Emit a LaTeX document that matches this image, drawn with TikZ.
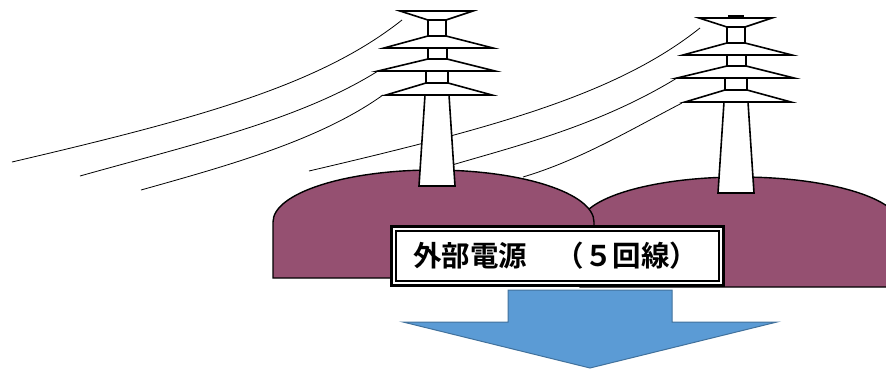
\documentclass[tikz,border=0pt]{standalone}
\usepackage{fontspec}
\newfontfamily\cjk{Noto Sans CJK JP Bold}
\usetikzlibrary{positioning}
\definecolor{hillpurple}{RGB}{149,80,113}
\definecolor{arrowblue}{RGB}{91,155,213}
\definecolor{arrowedge}{RGB}{65,113,156}
\tikzstyle{wire} = [line width=0.8pt]
\tikzstyle{hillshape} = [fill=hillpurple, draw=black, line width=1.4pt]
\tikzset{pylonpart/.style={draw=black, fill=white, line width=1.6pt, line join=miter}}
\tikzset{
  pylon/.pic={
    % cross arms with the insulator blocks between them
    \path[pylonpart] (-37,11) -- (36,11) -- (9,20) -- (-9,20) -- cycle;
    \path[pylonpart] (-9,20) rectangle (9,36);
    \path[pylonpart] (-9,36) -- (9,36) -- (56,48) -- (-53,48) -- cycle;
    \path[pylonpart] (-9,48) rectangle (10,59);
    \path[pylonpart] (-9,59) -- (10,59) -- (58,71) -- (-59,71) -- cycle;
    \path[pylonpart] (-11,71) rectangle (11,83);
    \path[pylonpart] (-11,83) -- (11,83) -- (55,95) -- (-51,95) -- cycle;
    % mast
    \path[pylonpart] (-12,95) -- (12,95) -- (18,186) -- (-18,186) -- cycle;
  }
}

\begin{document}
\begin{tikzpicture}[x=1pt,y=-1pt]
    \useasboundingbox (0,0) rectangle (886,368);
    %wires
    \draw[wire] (12,162) .. controls (200,118) and (320,85) .. (402,20);
    \draw[wire] (80,176) .. controls (190,145) and (300,120) .. (378,71);
    \draw[wire] (141,190) .. controls (230,165) and (320,140) .. (383,95);
    \draw[wire] (309,171) .. controls (497,127) and (617,94) .. (700,28);
    \draw[wire] (452,165) .. controls (520,145) and (600,125) .. (677,78);
    \draw[wire] (523,177) .. controls (580,160) and (630,130) .. (682,103);
    %hills
    \path[hillshape] (580,287) -- (580,225) .. controls (580,198.5) and (651.6,177) .. (740,177)
        .. controls (828.4,177) and (900,198.5) .. (900,225) -- (900,287) -- cycle;
    \path[hillshape] (273,278) -- (273,222) .. controls (273,193.3) and (344.9,170) .. (433.5,170)
        .. controls (522.1,170) and (594,193.3) .. (594,222) -- (594,278) -- cycle;
    %pylons
    \pic (westpylon) at (437,0) {pylon};
    \pic (eastpylon) at (736,7) {pylon};
    \draw[line width=2pt] (728,16) -- (744,16);
    %label
    \node[draw=black, fill=white, line width=2.5pt, double=white, double distance=1.8pt,
          text width=289pt, align=left, inner xsep=19.25pt, minimum height=54.5pt]
          (feed) at (557.5,256) {\cjk\fontsize{28.5}{32}\selectfont 外部電源　（５回線）};
    %arrow
    \path[fill=arrowblue, draw=arrowedge, line width=1pt]
        (508,290) -- (672,290) -- (672,322) -- (777,322) -- (590,368)
        -- (403,322) -- (508,322) -- cycle;
\end{tikzpicture}
\end{document}
